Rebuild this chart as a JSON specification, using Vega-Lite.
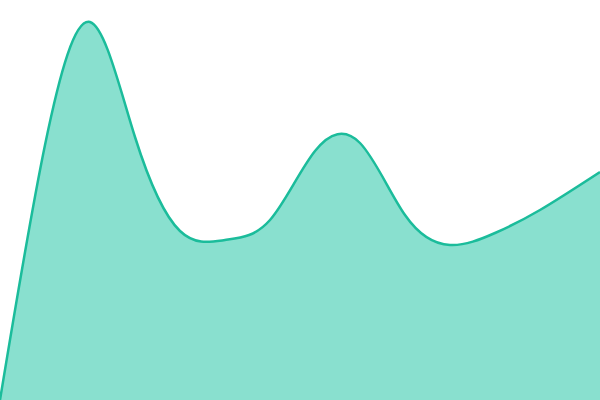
{
  "$schema": "https://vega.github.io/schema/vega-lite/v6.json",
  "width": 600,
  "height": 400,
  "autosize": {"type": "fit", "contains": "padding"},
  "padding": 0,
  "view": {"stroke": null},
  "background": "white",
  "data": {"values": [
    {"x": 0, "y": 0},
    {"x": 45, "y": 255},
    {"x": 90, "y": 378},
    {"x": 135, "y": 263},
    {"x": 180, "y": 169},
    {"x": 225, "y": 160},
    {"x": 270, "y": 180},
    {"x": 315, "y": 249},
    {"x": 360, "y": 257},
    {"x": 405, "y": 185},
    {"x": 450, "y": 155},
    {"x": 495, "y": 167},
    {"x": 540, "y": 190},
    {"x": 600, "y": 228}
  ]},
  "encoding": {
    "x": {"field": "x", "type": "quantitative", "scale": {"domain": [0, 600], "nice": false, "zero": false}, "axis": null},
    "y": {"field": "y", "type": "quantitative", "scale": {"domain": [0, 400], "nice": false}, "axis": null}
  },
  "layer": [
    {"mark": {"type": "area", "interpolate": "natural", "color": "#89e0cf", "opacity": 1, "clip": true}},
    {"mark": {"type": "line", "interpolate": "natural", "color": "#1bbc9b", "strokeWidth": 2.5, "clip": true}}
  ]
}
